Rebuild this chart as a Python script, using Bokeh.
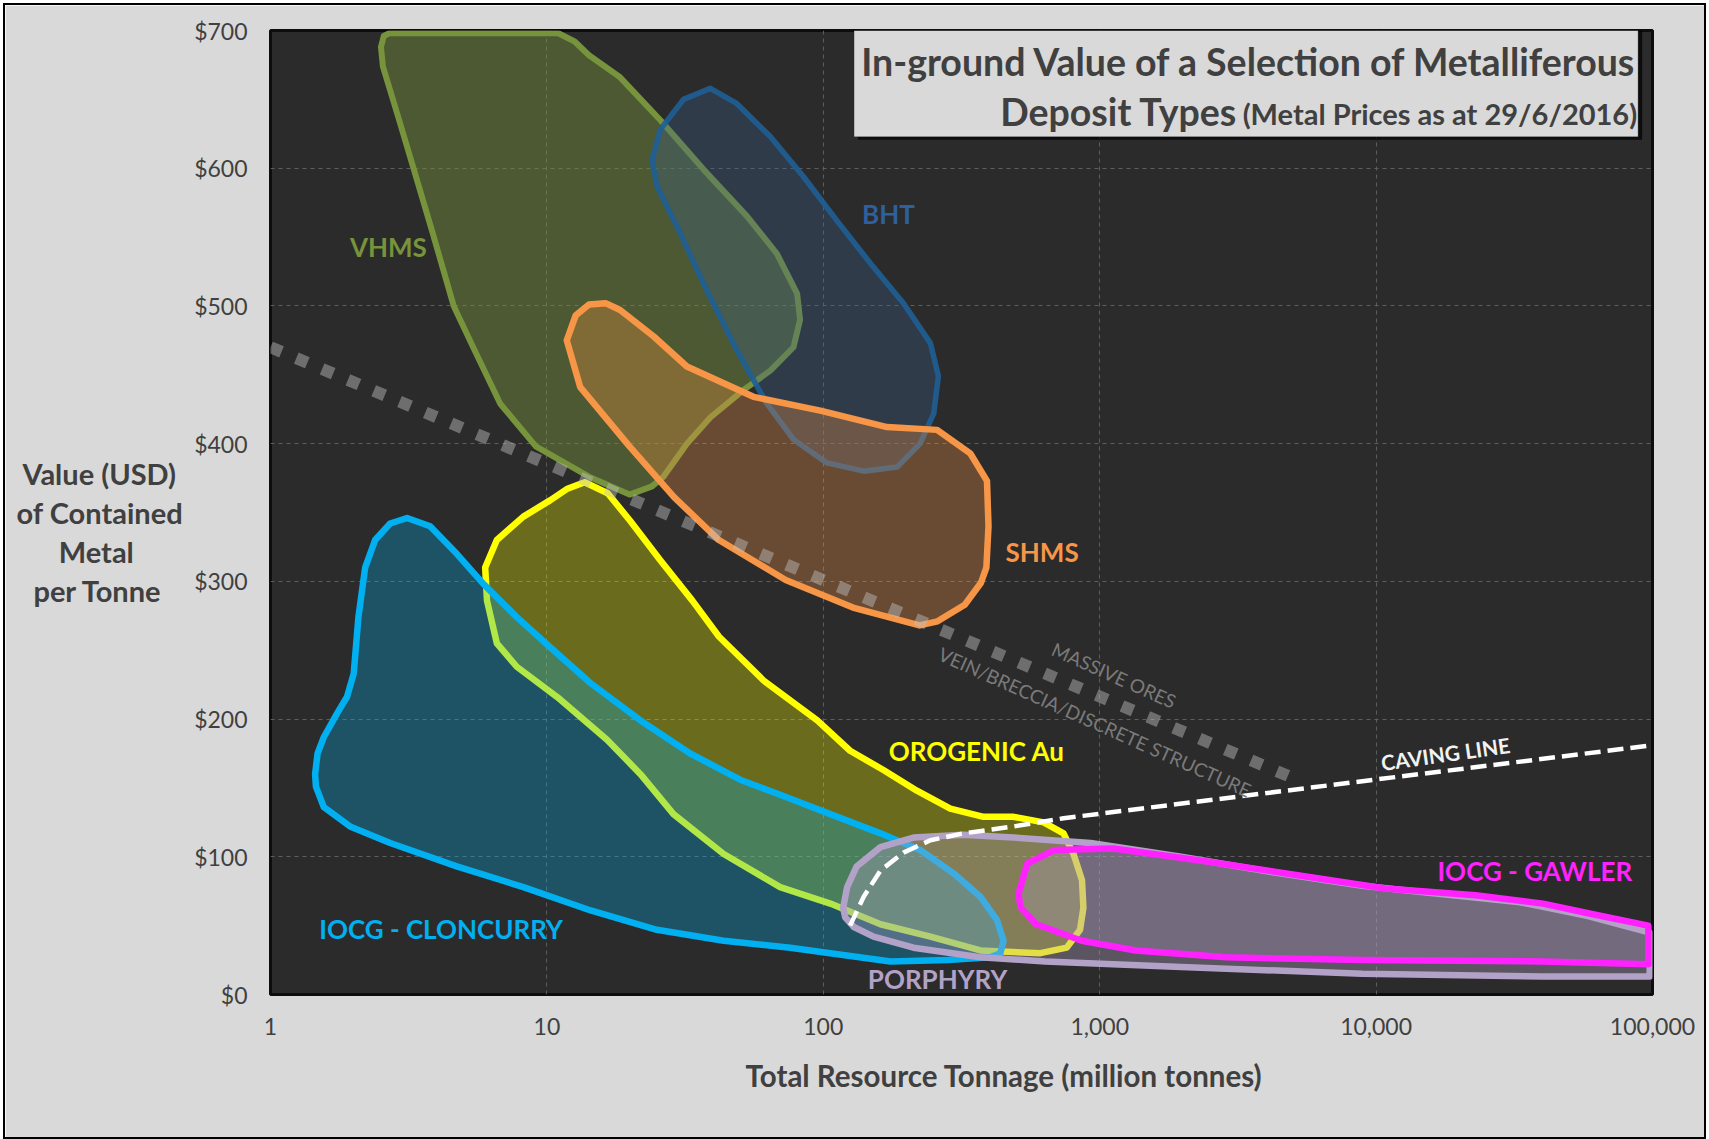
from bokeh.plotting import figure
from bokeh.models import Range1d, FixedTicker, NumeralTickFormatter, BoxAnnotation, Label
from bokeh.embed import file_html
from bokeh.resources import INLINE

# Deposit-type envelopes: total resource tonnage (million tonnes) vs in-ground value (USD/t)
VHMS_MT = [2.51, 2.57, 2.69, 11.0, 12.6, 14.2, 18.4, 25.7, 36.9, 53.0, 67.9, 80.4, 82.4, 78.0, 64.3,
           51.5, 39.0, 32.1, 26.4, 24.0, 19.9, 14.2, 9.12, 6.78, 5.41, 4.60, 3.86, 3.29, 2.90, 2.55]
VHMS_USD = [688, 696, 698, 698, 692, 682, 666, 635, 599, 565, 538, 509, 490, 470, 453,
            439, 419, 400, 376, 369, 363, 376, 398, 429, 470, 500, 553, 600, 637, 674]

BHT_MT = [39.0, 48.6, 64.3, 84.7, 112, 148, 195, 244, 261, 251, 224, 185, 140, 103, 78.0, 62.5,
          48.6, 37.9, 30.3, 25.0, 24.0, 25.7, 31.2]
BHT_USD = [658, 647, 623, 594, 562, 531, 502, 473, 449, 422, 400, 383, 380, 386, 403, 429,
           468, 511, 553, 587, 606, 628, 650]

SHMS_MT = [12.7, 14.2, 16.3, 18.4, 24.3, 32.1, 55.9, 97.5, 170, 258, 340, 391, 396, 389, 372, 325,
           259, 223, 128, 73.1, 41.9, 28.9, 19.9, 13.2, 11.8]
SHMS_USD = [493, 501, 502, 497, 478, 456, 434, 424, 412, 410, 393, 373, 340, 310, 299, 283,
            271, 268, 281, 301, 330, 361, 398, 441, 475]

OROGENIC_MT = [13.7, 16.6, 20.0, 25.8, 33.6, 41.9, 60.8, 95.1, 125, 165, 218, 288, 380, 488, 627,
               740, 804, 863, 873, 849, 760, 610, 461, 370, 244, 161, 106, 69.8, 43.6, 28.7,
               21.8, 16.5, 10.9, 7.78, 6.59, 6.07, 5.98, 6.59, 8.22, 10.3, 11.8]
OROGENIC_USD = [372, 364, 344, 315, 286, 260, 228, 199, 177, 163, 148, 135, 129, 129, 125,
                117, 102, 83, 63, 47, 34, 30, 31, 32, 42, 51, 66, 78, 102, 131,
                160, 185, 216, 238, 255, 286, 310, 330, 347, 359, 367]

CLONCURRY_MT = [3.12, 3.78, 4.72, 5.90, 7.78, 10.3, 14.4, 21.8, 33.0, 50.0, 69.8, 106, 161, 224, 296,
                370, 425, 449, 437, 402, 282, 175, 106, 75.9, 43.6, 25.0, 14.4, 8.22, 4.72, 2.71,
                1.94, 1.56, 1.46, 1.45, 1.48, 1.56, 1.74, 1.89, 2.00, 2.08, 2.20, 2.39, 2.71]
CLONCURRY_USD = [346, 340, 320, 298, 274, 252, 226, 199, 175, 156, 145, 131, 117, 105, 88,
                 71, 54, 39, 30, 27, 25, 24, 30, 34, 39, 47, 61, 78, 93, 110,
                 122, 136, 151, 160, 175, 187, 204, 216, 233, 274, 310, 330, 342]

PORPHYRY_MT = [118, 122, 132, 161, 212, 321, 488, 927, 1970, 4190, 8910, 18900, 33300, 58500, 97700,
               97700, 40200, 8910, 1970, 635, 370, 212, 152, 129, 120]
PORPHYRY_USD = [63, 78, 93, 107, 114, 116, 114, 110, 100, 89, 79, 72, 67, 57, 45,
                13, 13, 15, 20, 24, 27, 34, 42, 49, 56]

GAWLER_MT = [508, 547, 687, 1120, 2380, 5060, 10800, 22900, 40200, 58500, 96600,
             96600, 40200, 8910, 2870, 1350, 861, 590, 518]
GAWLER_USD = [73, 95, 105, 106, 97, 87, 77, 72, 66, 59, 50,
              22, 24, 25, 27, 32, 39, 51, 63]

# Guide lines
DIVIDER_MT = [1, 4900]
DIVIDER_USD = [470, 158]
CAVING_MT = [125, 140, 161, 195, 244, 321, 488, 740, 100000]
CAVING_USD = [50, 71, 90, 103, 112, 117, 122, 128, 181]

# Deposit names and where their captions sit
DEPOSIT_NAMES = ["VHMS", "BHT", "SHMS", "OROGENIC Au", "IOCG - CLONCURRY", "PORPHYRY", "IOCG - GAWLER"]
NAME_MT = [2.67, 172, 619, 359, 4.14, 259, 37500]
NAME_USD = [543, 567, 321, 177, 47.5, 11, 90]

X_TICKS = [1, 10, 100, 1000, 10000, 100000]
Y_TICKS = [0, 100, 200, 300, 400, 500, 600, 700]

FONT = "Lato"
INK = "#404040"
NBSP = "\u00a0"

p = figure(width=1699, height=1132, x_axis_type="log",
           x_range=Range1d(1, 100000), y_range=Range1d(0, 700),
           output_backend="svg", toolbar_location=None,
           min_border_left=265, min_border_right=52, min_border_top=25, min_border_bottom=143,
           background_fill_color="#2b2b2b", border_fill_color="#d9d9d9",
           outline_line_color="#0d0d0d", outline_line_width=3)
p.margin = (5, 5, 2, 5)
p.styles = {"outline": "2px solid #000000"}

# grid
p.xgrid.ticker = FixedTicker(ticks=X_TICKS[1:-1])
p.ygrid.ticker = FixedTicker(ticks=Y_TICKS[1:-1])
for g in (p.xgrid, p.ygrid):
    g.grid_line_color = "#5e5e5e"
    g.grid_line_dash = "4 4"
    g.grid_line_width = 1

# axes
p.xaxis.ticker = FixedTicker(ticks=X_TICKS)
p.xaxis.formatter = NumeralTickFormatter(format="0,0")
p.yaxis.ticker = FixedTicker(ticks=Y_TICKS)
p.yaxis.formatter = NumeralTickFormatter(format="$0")
for ax in (p.xaxis, p.yaxis):
    ax.axis_line_color = None
    ax.major_tick_line_color = None
    ax.minor_tick_line_color = None
    ax.major_tick_out = 0
    ax.major_tick_in = 0
    ax.minor_tick_out = 0
    ax.minor_tick_in = 0
    ax.major_label_text_font = FONT
    ax.major_label_text_font_size = "23px"
    ax.major_label_text_color = INK
    ax.major_label_standoff = 23
    ax.axis_label_text_font = FONT
    ax.axis_label_text_font_style = "bold"
    ax.axis_label_text_color = INK

# x caption sits a little right of the frame centre
p.xaxis.axis_label = NBSP * 12 + "Total Resource Tonnage (million tonnes)"
p.xaxis.axis_label_text_font_size = "29.5px"
p.xaxis.axis_label_standoff = 20

# y caption: four horizontal, centred lines left of the tick labels
p.yaxis.axis_label = "\n".join([NBSP,
                                "Value (USD)" + NBSP,
                                "of Contained",
                                "Metal" + NBSP * 7,
                                "per Tonne" + NBSP * 3])
p.yaxis.axis_label_text_font_size = "29px"
p.yaxis.axis_label_text_line_height = 1.12
p.yaxis.axis_label_standoff = 8
try:
    p.yaxis.axis_label_orientation = "horizontal"
except AttributeError:
    pass

# envelopes, back to front
shapes = [
    (VHMS_MT, VHMS_USD, "#77933c", "#77933c", 0.45, 6, 1.0),
    (BHT_MT, BHT_USD, "#1f5f96", "#3d5f93", 0.30, 5.5, 0.9),
    (SHMS_MT, SHMS_USD, "#f79646", "#f79646", 0.30, 6.5, 1.0),
    (OROGENIC_MT, OROGENIC_USD, "#ffff00", "#ffff00", 0.30, 6.5, 1.0),
    (CLONCURRY_MT, CLONCURRY_USD, "#00b0f0", "#00b0f0", 0.30, 6.5, 1.0),
    (PORPHYRY_MT, PORPHYRY_USD, "#b3a2c7", "#b3a2c7", 0.35, 6.5, 1.0),
    (GAWLER_MT, GAWLER_USD, "#ff22ff", "#b3a2c7", 0.28, 6.5, 1.0),
]
for xs, ys, lc, fc, fa, lw, la in shapes:
    p.patch(xs, ys, fill_color=fc, fill_alpha=fa, line_color=lc, line_width=lw,
            line_alpha=la, line_join="round")

# massive / vein divider and caving line
p.line(DIVIDER_MT, DIVIDER_USD, line_color="#c0c0c0", line_alpha=0.45, line_width=12,
       line_dash="12 16")
p.line(CAVING_MT, CAVING_USD, line_color="#ffffff", line_width=4.5, line_dash="16 7")

# deposit captions
name_colors = ["#77933c", "#2e5f9e", "#f79646", "#ffff00", "#00b0f0", "#b3a2c7", "#ff22ff"]
for name, x, y, c in zip(DEPOSIT_NAMES, NAME_MT, NAME_USD, name_colors):
    p.add_layout(Label(x=x, y=y, text=name, text_align="center", text_baseline="middle",
                       text_font=FONT, text_font_style="bold", text_font_size="26px",
                       text_color=c))

p.add_layout(Label(x=1127, y=232, text="MASSIVE ORES", angle=-0.42, text_align="center",
                   text_baseline="middle", text_font=FONT, text_font_size="19px",
                   text_color="#7a7a7a"))
p.add_layout(Label(x=962, y=198, text="VEIN/BRECCIA/DISCRETE STRUCTURE", angle=-0.42,
                   text_align="center", text_baseline="middle", text_font=FONT,
                   text_font_size="19px", text_color="#7a7a7a"))
p.add_layout(Label(x=17800, y=175, text="CAVING LINE", angle=0.14, text_align="center",
                   text_baseline="middle", text_font=FONT, text_font_style="bold",
                   text_font_size="21px", text_color="#f2f2f2"))

# title panel
p.add_layout(BoxAnnotation(left=133.6, right=91700, bottom=620.6, top=700,
                           fill_color="#000000", fill_alpha=0.7, line_color=None))
p.add_layout(BoxAnnotation(left=129.2, right=88700, bottom=622.8, top=700,
                           fill_color="#d9d9d9", fill_alpha=1.0, line_color="#262626",
                           line_width=1))
p.add_layout(Label(x=88000, y=677.5, text="In-ground Value of a Selection of Metalliferous",
                   text_align="right", text_baseline="middle", text_font=FONT,
                   text_font_style="bold", text_font_size="37.5px", text_color=INK))
p.add_layout(Label(x=88000, y=640, text="(Metal Prices as at 29/6/2016)",
                   text_align="right", text_baseline="middle", text_font=FONT,
                   text_font_style="bold", text_font_size="29px", text_color=INK))
p.add_layout(Label(x=3148, y=641, text="Deposit Types",
                   text_align="right", text_baseline="middle", text_font=FONT,
                   text_font_style="bold", text_font_size="37.5px", text_color=INK))

open("out.html", "w").write(file_html(p, INLINE))
